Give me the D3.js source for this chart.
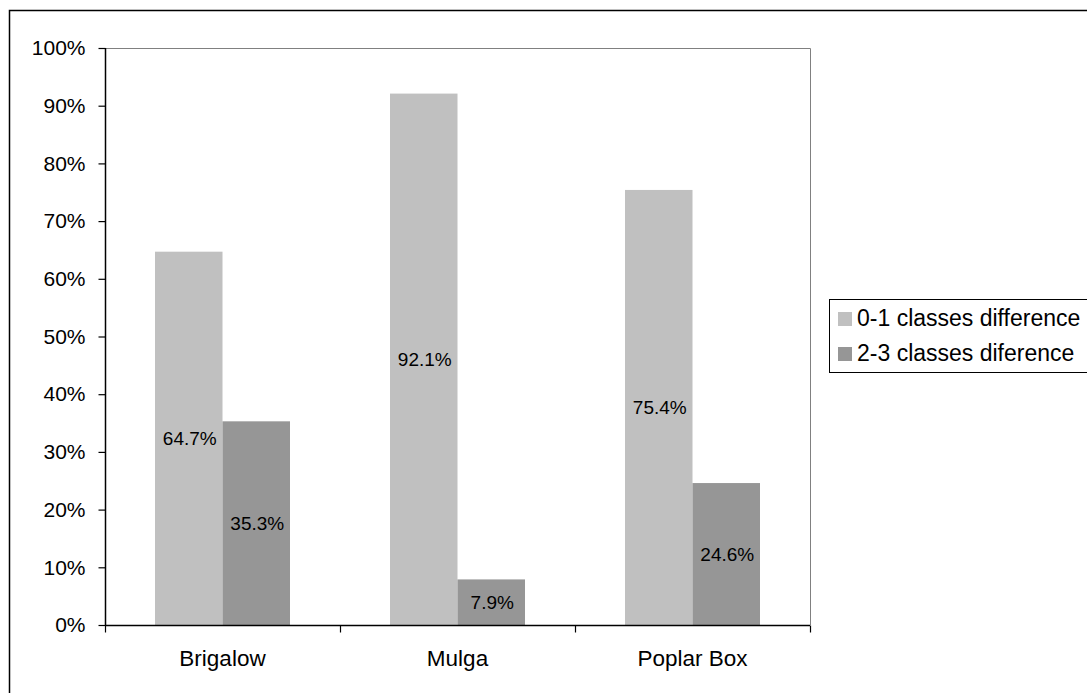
<!DOCTYPE html>
<html>
<head>
<meta charset="utf-8">
<script src="https://cdn.jsdelivr.net/npm/d3@7"></script>
<style>
  body { margin: 0; background: #fff; }
  svg { display: block; font-family: "Liberation Sans", Arial, sans-serif; }
</style>
</head>
<body>
<div id="chart"></div>
<script>
var categories = ["Brigalow", "Mulga", "Poplar Box"];
var seriesNames = ["0-1 classes difference", "2-3 classes diference"];
var lowDiff = [64.7, 92.1, 75.4];
var highDiff = [35.3, 7.9, 24.6];
var yTicks = [0, 10, 20, 30, 40, 50, 60, 70, 80, 90, 100];
var colors = ["#c0c0c0", "#969696"];

var width = 1087;
var height = 693;

var svg = d3.select("#chart").append("svg")
    .attr("width", width)
    .attr("height", height);

// outer chart frame (runs off the right and bottom edges)
svg.append("rect")
    .attr("x", 9.5).attr("y", 10.5)
    .attr("width", 1100).attr("height", 700)
    .attr("fill", "none").attr("stroke", "#000").attr("stroke-width", 1.5);

var plotLeft = 105, plotRight = 810, plotTop = 48, plotBottom = 625;

var x = d3.scaleBand()
    .domain(categories)
    .range([plotLeft, plotRight]);

var y = d3.scaleLinear()
    .domain([0, 100])
    .range([plotBottom, plotTop]);

// plot frame top/right in grey
svg.append("path")
    .attr("d", "M" + plotLeft + "," + (plotTop + 0.5) + "H" + (plotRight + 0.5) + "V" + plotBottom)
    .attr("fill", "none").attr("stroke", "#808080").attr("stroke-width", 1);

var rows = categories.map(function (c, i) {
    return {cat: c, vals: [lowDiff[i], highDiff[i]]};
});

var barW = 67.5;
var barOffset = 50;

var groups = svg.selectAll("g.cat").data(rows).enter().append("g")
    .attr("class", "cat");

groups.selectAll("rect").data(function (d) {
    return d.vals.map(function (v, j) { return {cat: d.cat, v: v, j: j}; });
}).enter().append("rect")
    .attr("x", function (d) { return x(d.cat) + barOffset + d.j * barW; })
    .attr("y", function (d) { return y(d.v); })
    .attr("width", barW)
    .attr("height", function (d) { return plotBottom - y(d.v); })
    .attr("fill", function (d) { return colors[d.j]; });

groups.selectAll("text").data(function (d) {
    return d.vals.map(function (v, j) { return {cat: d.cat, v: v, j: j}; });
}).enter().append("text")
    .attr("x", function (d) { return x(d.cat) + barOffset + d.j * barW + barW / 2 + 1; })
    .attr("y", function (d) { return (y(d.v) + plotBottom) / 2; })
    .attr("dy", "0.35em")
    .attr("text-anchor", "middle")
    .attr("font-size", 19)
    .attr("fill", "#000")
    .text(function (d) { return d.v.toFixed(1) + "%"; });

// y axis
var yAxis = d3.axisLeft(y)
    .tickValues(yTicks)
    .tickSize(7)
    .tickPadding(13)
    .tickFormat(function (d) { return d + "%"; });

var gy = svg.append("g")
    .attr("transform", "translate(" + (plotLeft + 0.5) + ",0)")
    .call(yAxis);
gy.select(".domain").attr("stroke", "#000").attr("stroke-width", 1.5)
    .attr("d", "M0," + plotTop + "V" + plotBottom);
gy.selectAll(".tick line").attr("stroke", "#000").attr("stroke-width", 1.2);
gy.selectAll(".tick text").attr("font-size", 21).attr("font-family", "Liberation Sans, Arial, sans-serif").attr("fill", "#000");

// x axis
var xAxis = d3.axisBottom(x)
    .tickSize(0)
    .tickPadding(25);

var gx = svg.append("g")
    .attr("transform", "translate(0," + (plotBottom + 0.5) + ")")
    .call(xAxis);
gx.select(".domain").attr("stroke", "#000").attr("stroke-width", 1.5)
    .attr("d", "M" + plotLeft + ",0H" + plotRight);
gx.selectAll(".tick text").attr("font-size", 22.5).attr("font-family", "Liberation Sans, Arial, sans-serif").attr("fill", "#000");

// band boundary tick marks
var bounds = categories.map(function (c) { return x(c); }).concat([plotRight]);
gx.selectAll("line.sep").data(bounds).enter().append("line")
    .attr("class", "sep")
    .attr("x1", function (d) { return d + 0.5; })
    .attr("x2", function (d) { return d + 0.5; })
    .attr("y1", 0).attr("y2", 7)
    .attr("stroke", "#000").attr("stroke-width", 1.2);

// legend
var legend = svg.append("g").attr("transform", "translate(829,299)");
legend.append("rect")
    .attr("x", 0.5).attr("y", 0.5)
    .attr("width", 300).attr("height", 73)
    .attr("fill", "#fff").attr("stroke", "#000").attr("stroke-width", 1);

var items = legend.selectAll("g.item").data(seriesNames).enter().append("g")
    .attr("class", "item")
    .attr("transform", function (d, i) { return "translate(0," + (i * 35) + ")"; });

items.append("rect")
    .attr("x", 9).attr("y", 13)
    .attr("width", 14).attr("height", 14)
    .attr("fill", function (d, i) { return colors[i]; });

items.append("text")
    .attr("x", 28).attr("y", 27)
    .attr("font-size", 23)
    .attr("fill", "#000")
    .text(function (d) { return d; });
</script>
</body>
</html>
